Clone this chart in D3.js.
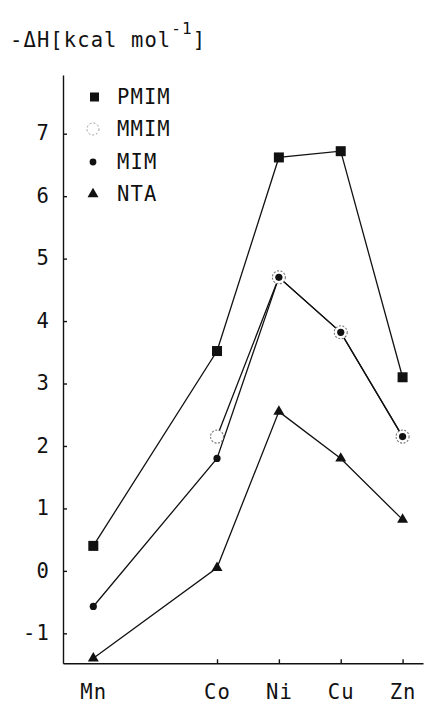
<!DOCTYPE html>
<html>
<head>
  <meta charset="UTF-8">
  <title>-ΔH vs metal</title>
  <style>
    body { margin: 0; background: #fff; }
    text { font-family: "DejaVu Sans Mono", monospace; font-size: 20.5px; fill: #111; letter-spacing: 1.1px; }
    .axis path, .axis line { stroke: #111; stroke-width: 1.4px; }
    .series { fill: none; stroke: #111; stroke-width: 1.3px; }
  </style>
</head>
<body>
  <script src="https://d3js.org/d3.v7.min.js"></script>
  <script>
    const metals = ["Mn", "Co", "Ni", "Cu", "Zn"];
    const atomicNumber = [25, 27, 28, 29, 30];
    const pmim = [0.4, 3.52, 6.62, 6.72, 3.1];
    const mmim = [null, 2.15, 4.7, 3.82, 2.15];
    const mim = [-0.57, 1.8, 4.7, 3.82, 2.15];
    const nta = [-1.4, 0.05, 2.55, 1.8, 0.82];
    const yTicks = [-1, 0, 1, 2, 3, 4, 5, 6, 7];
    const legendNames = ["PMIM", "MMIM", "MIM", "NTA"];

    const width = 424, height = 704;
    const svg = d3.select("body").append("svg").attr("width", width).attr("height", height);

    const x = d3.scaleLinear().domain([24.51, 30.33]).range([63, 423]);
    const y = d3.scaleLinear().domain([-1.48, 7.94]).range([663.3, 75]);

    // axes, ticks point inward
    const yAxis = d3.axisLeft(y).tickValues(yTicks).tickSizeInner(-4).tickSizeOuter(0).tickPadding(13)
      .tickFormat(d => String(d));
    svg.append("g").attr("class", "axis").attr("transform", "translate(63,0)").call(yAxis)
      .call(g => g.selectAll("text").attr("font-size", null).attr("font-family", null).attr("dy", "0.3em"));

    const xAxis = d3.axisBottom(x).tickValues(atomicNumber).tickSizeInner(-4).tickSizeOuter(0).tickPadding(21)
      .tickFormat((d, i) => metals[i]);
    svg.append("g").attr("class", "axis").attr("transform", "translate(0,663.3)").call(xAxis)
      .call(g => g.selectAll("text").attr("font-size", null).attr("font-family", null))
      .call(g => g.selectAll(".tick").filter(d => d === 25).select("line").remove());

    // y label
    const title = svg.append("text").attr("x", 10).attr("y", 47);
    title.append("tspan").text("-ΔH[kcal mol");
    title.append("tspan").attr("dy", -13).attr("font-size", "16px").text("-1");
    title.append("tspan").attr("dy", 13).text("]");

    const line = d3.line().defined(d => d[1] != null).x(d => x(d[0])).y(d => y(d[1]));
    const pts = vals => atomicNumber.map((a, i) => [a, vals[i]]);

    [pmim, mmim, mim, nta].forEach(vals => {
      svg.append("path").attr("class", "series").attr("d", line(pts(vals)));
    });

    const tri = d3.symbol().type(d3.symbolTriangle).size(52);

    // PMIM squares
    svg.selectAll(".sq").data(pts(pmim)).enter().append("rect")
      .attr("x", d => x(d[0]) - 5).attr("y", d => y(d[1]) - 5)
      .attr("width", 10).attr("height", 10).attr("fill", "#111");

    // MMIM open circles
    svg.selectAll(".oc").data(pts(mmim).filter(d => d[1] != null)).enter().append("circle")
      .attr("cx", d => x(d[0])).attr("cy", d => y(d[1])).attr("r", 6.5)
      .attr("fill", "#fff").attr("stroke", "#777").attr("stroke-width", 1.1).attr("stroke-dasharray", "2,1.5");

    // MIM dots
    svg.selectAll(".dot").data(pts(mim)).enter().append("circle")
      .attr("cx", d => x(d[0])).attr("cy", d => y(d[1])).attr("r", 3.6).attr("fill", "#111");

    // NTA triangles
    svg.selectAll(".tri").data(pts(nta)).enter().append("path")
      .attr("d", tri).attr("transform", d => `translate(${x(d[0])},${y(d[1])})`).attr("fill", "#111");

    // legend
    const legendY = [97, 129, 162, 194];
    const lg = svg.append("g");
    lg.append("rect").attr("x", 90).attr("y", legendY[0] - 4.5).attr("width", 9).attr("height", 9).attr("fill", "#111");
    lg.append("circle").attr("cx", 93).attr("cy", legendY[1]).attr("r", 6)
      .attr("fill", "#fff").attr("stroke", "#999").attr("stroke-width", 1).attr("stroke-dasharray", "2,2");
    lg.append("circle").attr("cx", 93).attr("cy", legendY[2]).attr("r", 3.4).attr("fill", "#111");
    lg.append("path").attr("d", tri).attr("transform", `translate(93,${legendY[3]})`).attr("fill", "#111");
    legendNames.forEach((n, i) => {
      lg.append("text").attr("x", 117).attr("y", legendY[i] + 7).text(n);
    });
  </script>
</body>
</html>
